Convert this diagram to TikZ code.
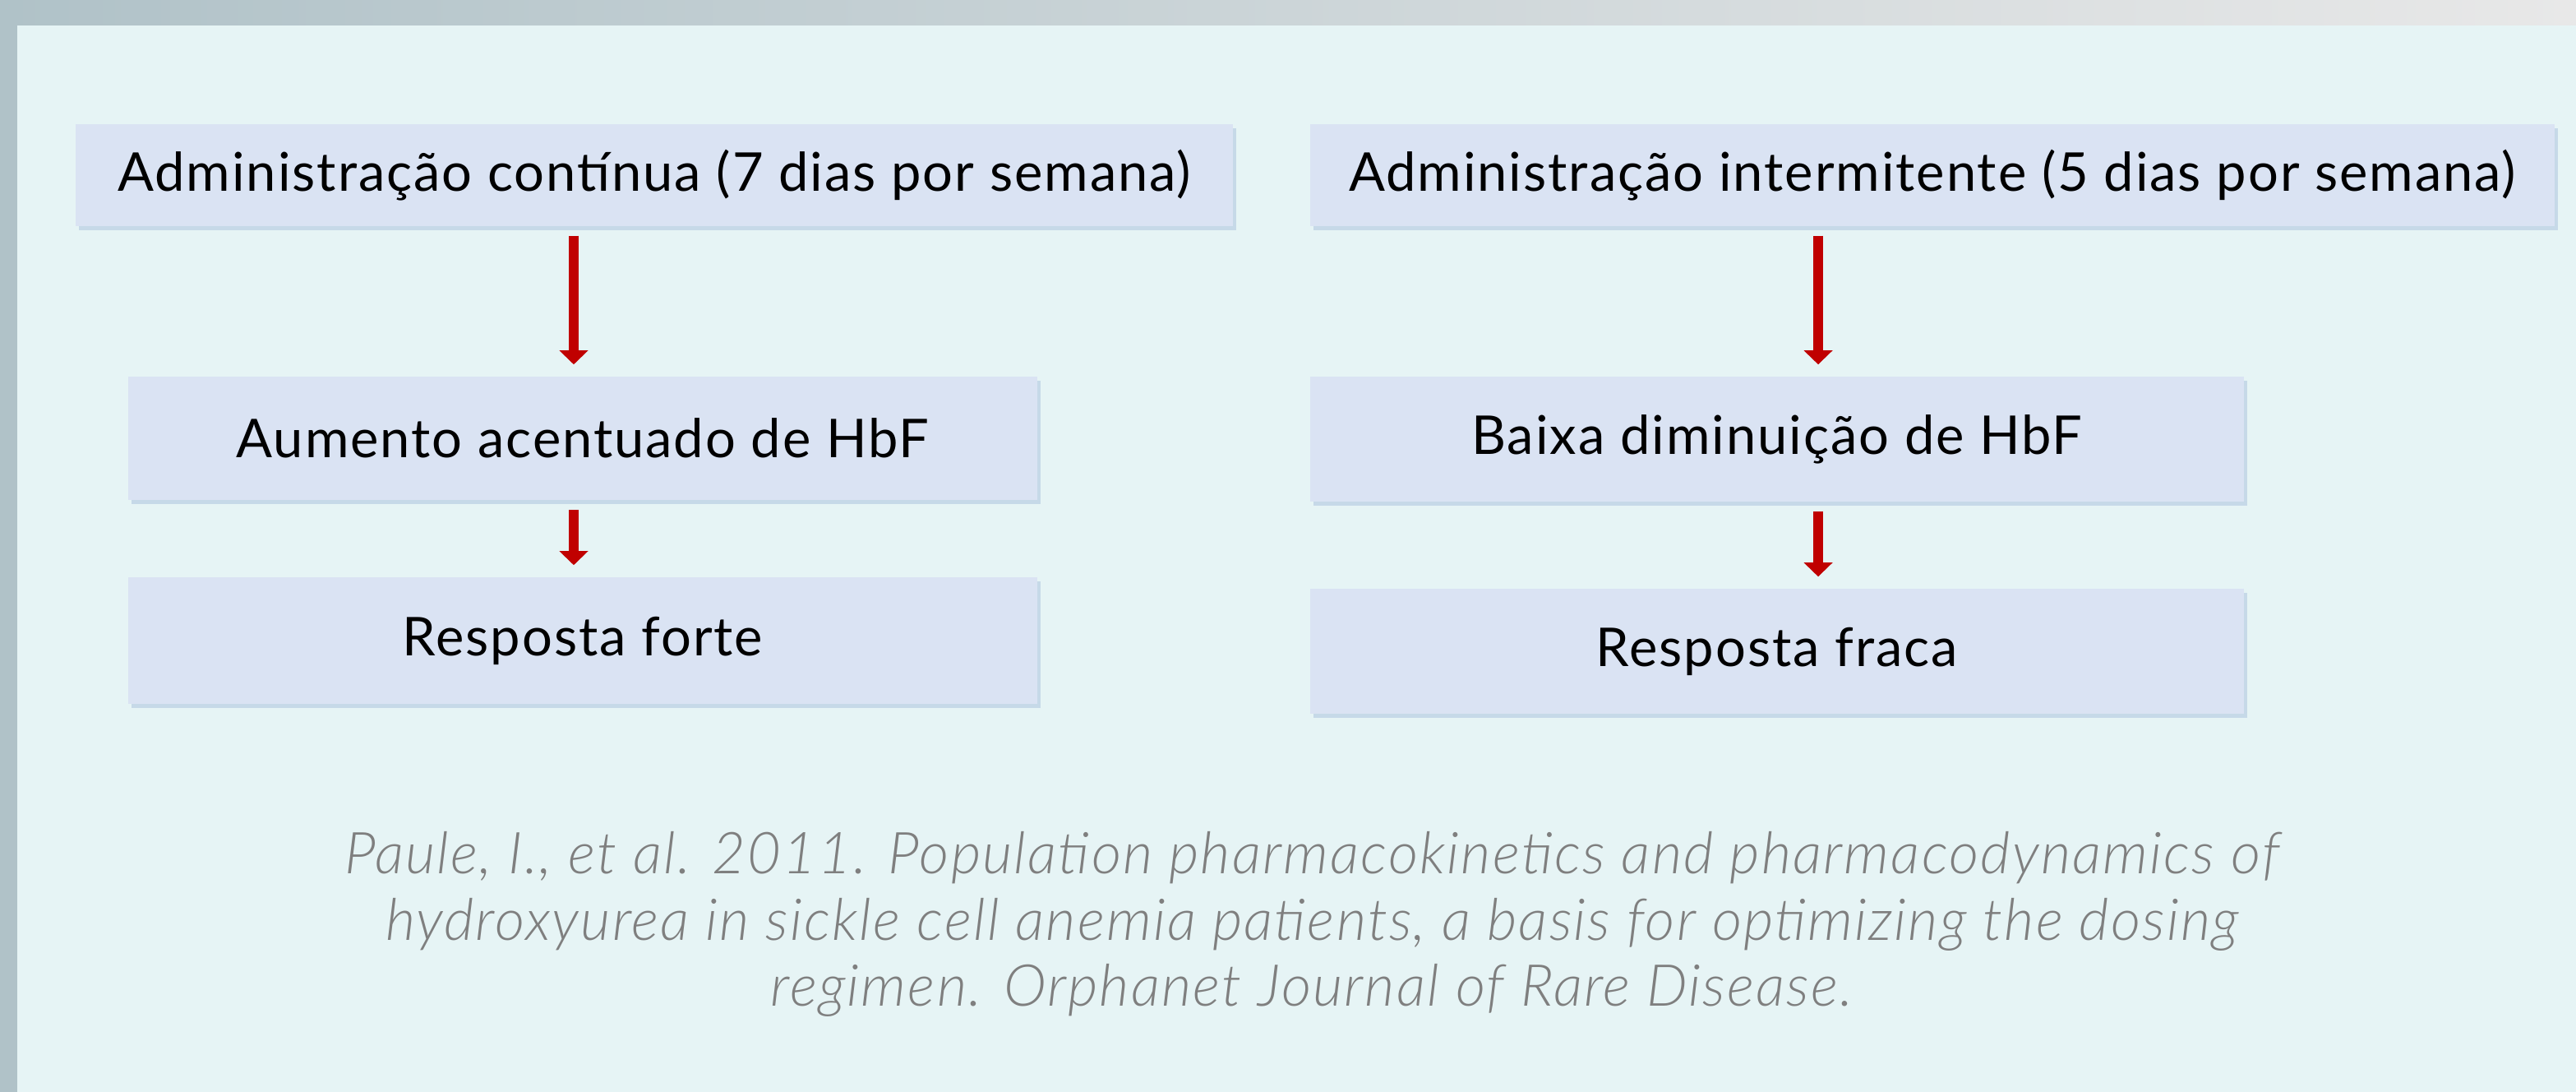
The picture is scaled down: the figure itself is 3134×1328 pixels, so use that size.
\documentclass[tikz,border=0pt]{standalone}
\usepackage{fontspec}
\setmainfont{Lato}[LetterSpace=3]
\newfontfamily\citefont{Lato Light Italic}[LetterSpace=3]
\usetikzlibrary{arrows.meta,shadows}

\definecolor{panel}{HTML}{E6F4F5}
\definecolor{boxfill}{HTML}{DAE3F3}
\definecolor{boxshadow}{HTML}{C6D9E8}
\definecolor{arrowred}{HTML}{C00000}
\definecolor{citegray}{HTML}{7F7F7F}

\begin{document}
\begin{tikzpicture}[x=0.01cm, y=-0.01cm,
  box/.style={fill=boxfill, inner sep=0pt, font=\fontsize{18.5}{22}\selectfont,
    drop shadow={shadow xshift=0.04cm, shadow yshift=-0.05cm, fill=boxshadow, opacity=1}},
  arr/.style={draw=arrowred, line width=0.12cm, -{Triangle[width=0.34cm,length=0.17cm]},
    shorten <=0.11cm, shorten >=0.14cm}]
\useasboundingbox (0,0) rectangle (3134,1328);
% frame and panel
\shade[left color={rgb,255:red,176;green,194;blue,200}, right color={rgb,255:red,232;green,232;blue,232}] (0,0) rectangle (3134,1328);
\fill[panel] (21,31) rectangle (3134,1328);
% boxes
\node[box, minimum width=14.07cm, minimum height=1.24cm] (cont) at (796,213) {Administração contínua (7 dias por semana)};
\node[box, minimum width=15.13cm, minimum height=1.24cm] (inter) at (2351,213) {Administração intermitente (5 dias por semana)};
\node[box, minimum width=11.06cm, minimum height=1.50cm] (aum) at (709,533) {Aumento acentuado de HbF};
\node[box, minimum width=11.06cm, minimum height=1.54cm] (forte) at (709,779) {Resposta forte};
\node[box, minimum width=11.36cm, minimum height=1.52cm] (baixa) at (2162,534) {Baixa diminuição de HbF};
\node[box, minimum width=11.36cm, minimum height=1.52cm] (fraca) at (2162,792) {Resposta fraca};
% arrows
\draw[arr] ([xshift=-0.11cm]aum.north |- cont.south) -- ([xshift=-0.11cm]aum.north);
\draw[arr] ([xshift=-0.11cm]aum.south) -- ([xshift=-0.11cm]forte.north);
\draw[arr] ([xshift=0.5cm]baixa.north |- inter.south) -- ([xshift=0.5cm]baixa.north);
\draw[arr] ([xshift=0.5cm]baixa.south) -- ([xshift=0.5cm]fraca.north);
% reference
\node[font=\citefont\fontsize{20}{22.8}\selectfont, text=citegray, align=center] (ref) at (1596,1124)
  {Paule, I., et al. 2011. Population pharmacokinetics and pharmacodynamics of\\
   hydroxyurea in sickle cell anemia patients, a basis for optimizing the dosing\\
   regimen. Orphanet Journal of Rare Disease.};
\end{tikzpicture}
\end{document}
